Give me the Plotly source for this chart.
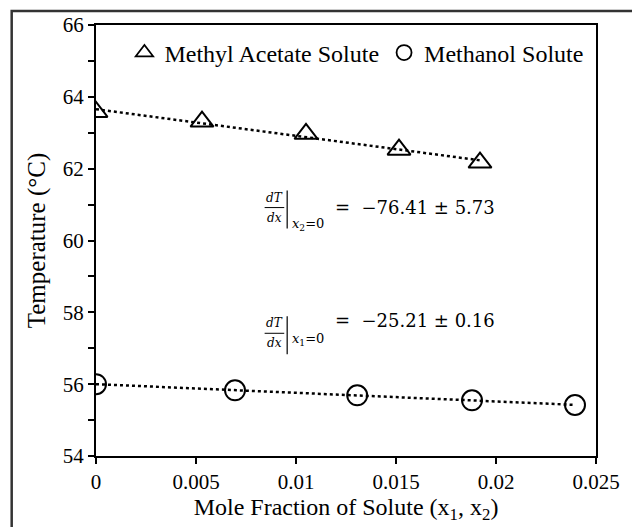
import numpy as np
import plotly.graph_objects as go

# ---- data ----
ma_x = [0.0, 0.0053, 0.0105, 0.01515, 0.0192]
ma_y = [63.58, 63.31, 62.97, 62.53, 62.17]
me_x = [0.0, 0.00695, 0.01306, 0.0188, 0.02395]
me_y = [56.0, 55.83, 55.69, 55.55, 55.42]
series_names = ["Methyl Acetate Solute", "Methanol Solute"]
slopes = [-76.41, -25.21]
slope_err = [5.73, 0.16]
x_ticks = [0, 0.005, 0.01, 0.015, 0.02, 0.025]
y_ticks = [54, 56, 58, 60, 62, 64, 66]

# ---- layout geometry (pixels) ----
W, H = 632, 527
L, R, T, B = 96, 606, 25, 457
def px(xp):
    return (xp - L) / (R - L)
def py(yp):
    return (B - yp) / (B - T)

SERIF = "Liberation Serif, Times New Roman, serif"
MATH = "DejaVu Serif, serif"

fig = go.Figure()

for xs, ys, sym, size in [(ma_x, ma_y, "triangle-up-open", 20), (me_x, me_y, "circle-open", 20)]:
    xa = np.array(xs); ya = np.array(ys)
    m, b = np.polyfit(xa, ya, 1)
    xl = np.array([xa.min(), xa.max()])
    fig.add_trace(go.Scatter(x=xl, y=m * xl + b, mode="lines",
                             line=dict(color="black", width=2.5, dash="dot"),
                             showlegend=False, hoverinfo="skip"))
    fig.add_trace(go.Scatter(x=xs, y=ys, mode="markers", showlegend=False,
                             marker=dict(symbol=sym, size=size, color="black",
                                         line=dict(color="black", width=2))))

# legend-only entries
for name, sym, sz in zip(series_names, ["triangle-up-open", "circle-open"], [15, 15]):
    fig.add_trace(go.Scatter(x=[None], y=[None], mode="markers", name=name,
                             marker=dict(symbol=sym, size=sz, color="black",
                                         line=dict(color="black", width=1.8))))

annotations = []
shapes = []
# equation annotations
for (yc, sub, s, e) in [(208, "2", slopes[0], slope_err[0]), (334, "1", slopes[1], slope_err[1])]:
    annotations.append(dict(x=px(278), y=py(yc - 1), xref="paper", yref="paper",
                            yanchor="bottom", text="<i>dT</i>", showarrow=False,
                            font=dict(family=MATH, size=12, color="black")))
    annotations.append(dict(x=px(278), y=py(yc + 1), xref="paper", yref="paper",
                            yanchor="top", text="<i>dx</i>", showarrow=False,
                            font=dict(family=MATH, size=12, color="black")))
    shapes.append(dict(type="line", xref="paper", yref="paper",
                       x0=px(268), x1=px(288), y0=py(yc), y1=py(yc),
                       line=dict(color="black", width=1)))
    shapes.append(dict(type="line", xref="paper", yref="paper",
                       x0=px(291), x1=px(291), y0=py(yc - 17), y1=py(yc + 21),
                       line=dict(color="black", width=1.2)))
    annotations.append(dict(x=px(294), y=py(yc + 17), xref="paper", yref="paper",
                            xanchor="left", text="<i>x</i><sub>%s</sub>=0" % sub,
                            showarrow=False,
                            font=dict(family=MATH, size=13, color="black")))
    annotations.append(dict(x=px(338), y=py(yc), xref="paper", yref="paper",
                            xanchor="left",
                            text="=  \u2212%.2f \u00b1 %.2f" % (abs(s), e),
                            showarrow=False,
                            font=dict(family=MATH, size=18, color="black")))

# outer frame
shapes.append(dict(type="rect", xref="paper", yref="paper",
                   x0=px(10), x1=px(660), y0=py(11), y1=py(560),
                   line=dict(color="#333333", width=2.5), layer="below"))

fig.update_layout(
    width=W, height=H,
    margin=dict(l=L, r=W - R, t=T, b=H - B, pad=0),
    paper_bgcolor="white", plot_bgcolor="white",
    font=dict(family=SERIF, color="black", size=21),
    showlegend=True,
    legend=dict(orientation="h", x=px(125), y=py(53), xanchor="left", yanchor="middle",
                bgcolor="rgba(0,0,0,0)", font=dict(family=SERIF, size=24, color="black"),
                itemwidth=30, tracegroupgap=0),
    annotations=annotations, shapes=shapes,
    xaxis=dict(range=[0, 0.025], tickvals=x_ticks, ticktext=[("%g" % v) for v in x_ticks],
               ticks="outside", ticklen=6, tickwidth=2, tickcolor="black",
               showline=True, linecolor="black", linewidth=2, mirror=True,
               showgrid=False, zeroline=False,
               tickfont=dict(family=SERIF, size=21),
               title=dict(text="Mole Fraction of Solute (x<sub>1</sub>, x<sub>2</sub>)",
                          font=dict(family=SERIF, size=24), standoff=4)),
    yaxis=dict(range=[54, 66], tickvals=y_ticks,
               ticks="outside", ticklen=6, tickwidth=2, tickcolor="black",
               minor=dict(dtick=1, ticks="outside", ticklen=6, tickwidth=2, tickcolor="black", showgrid=False),
               showline=True, linecolor="black", linewidth=2, mirror=True,
               showgrid=False, zeroline=False,
               tickfont=dict(family=SERIF, size=21),
               title=dict(text="Temperature (°C)", font=dict(family=SERIF, size=25), standoff=10)),
)

fig.write_html("out.html", config={"displayModeBar": False},
               post_script="document.body.style.margin='0';document.body.style.overflow='hidden';")
